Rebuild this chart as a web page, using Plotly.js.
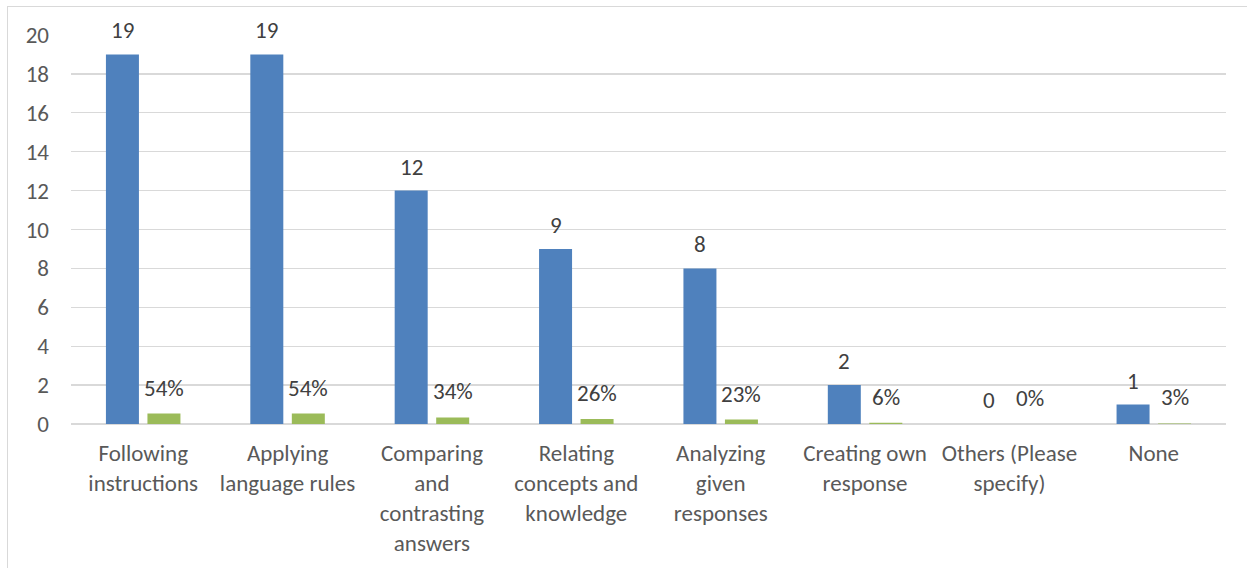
<!DOCTYPE html>
<html>
<head>
<meta charset="utf-8">
<script src="https://cdn.plot.ly/plotly-3.0.1.min.js"></script>
<style>
  html, body { margin: 0; padding: 0; background: #ffffff; }
  #frame {
    position: absolute; left: 7px; top: 6px;
    width: 1300px; height: 620px;
    border: 1.5px solid #d9d9d9; box-sizing: border-box;
  }
  #chart { position: absolute; left: 0; top: 0; width: 1247px; height: 568px; }
</style>
</head>
<body>
<div id="frame"></div>
<div id="chart"></div>
<script>
// Thinking skills reported by respondents: counts and share of respondents
const categories = [
  "Following<br>instructions",
  "Applying<br>language rules",
  "Comparing<br>and<br>contrasting<br>answers",
  "Relating<br>concepts and<br>knowledge",
  "Analyzing<br>given<br>responses",
  "Creating own<br>response",
  "Others (Please<br>specify)",
  "None"
];
const counts = [19, 19, 12, 9, 8, 2, 0, 1];
const shares = [0.54, 0.54, 0.34, 0.26, 0.23, 0.06, 0.00, 0.03];
const yTicks = [0, 2, 4, 6, 8, 10, 12, 14, 16, 18, 20];

const FONT = "Carlito, Lato, 'Open Sans', sans-serif";
const FS = 23;
const BLUE = "#4f81bd";
const GREEN = "#9bbb59";

const traces = [
  {
    type: "bar", name: "Count", x: categories, y: counts,
    marker: { color: BLUE }, hoverinfo: "skip"
  },
  {
    type: "bar", name: "Percent", x: categories, y: shares,
    marker: { color: GREEN }, hoverinfo: "skip"
  }
];

// Value labels sit above each bar, shifted to that bar's slot in the group
const slotShift = 20.75;
const annotations = [];
categories.forEach((c, i) => {
  annotations.push({
    x: c, y: counts[i], xref: "x", yref: "y",
    text: String(counts[i]), showarrow: false,
    xshift: -slotShift, yshift: 24, yanchor: "middle",
    font: { family: FONT, size: FS, color: "#404040" }
  });
  annotations.push({
    x: c, y: shares[i], xref: "x", yref: "y",
    text: Math.round(shares[i] * 100) + "%", showarrow: false,
    xshift: slotShift, yshift: 26, yanchor: "middle",
    font: { family: FONT, size: FS, color: "#404040" }
  });
});

const layout = {
  width: 1247, height: 568,
  margin: { l: 71, r: 21, t: 35, b: 144 },
  paper_bgcolor: "rgba(0,0,0,0)",
  plot_bgcolor: "rgba(0,0,0,0)",
  barmode: "group",
  bargap: 0.425,
  bargroupgap: 0.205,
  showlegend: false,
  font: { family: FONT, size: FS, color: "#595959" },
  xaxis: {
    type: "category",
    showgrid: false, zeroline: false, showline: false,
    ticks: "", ticklabelstandoff: 13,
    tickfont: { family: FONT, size: FS, color: "#595959" }
  },
  yaxis: {
    range: [0, 20], tickvals: yTicks, ticktext: yTicks.map(String),
    showgrid: true, gridcolor: "#d9d9d9", gridwidth: 1.3,
    zeroline: true, zerolinecolor: "#d9d9d9", zerolinewidth: 1.5,
    showline: false, ticks: "", ticklabelstandoff: 21,
    tickfont: { family: FONT, size: FS, color: "#595959" }
  },
  annotations: annotations
};

Plotly.newPlot("chart", traces, layout, { staticPlot: true, displayModeBar: false });
</script>
</body>
</html>
